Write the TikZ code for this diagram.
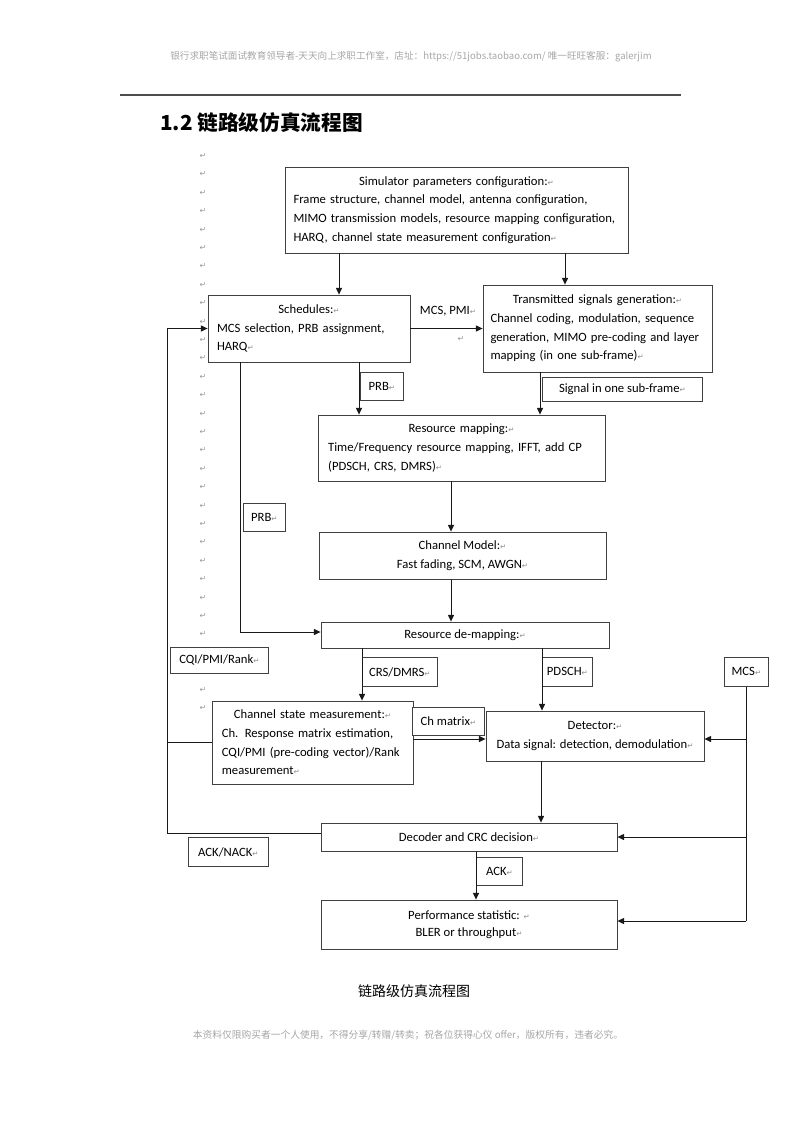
\documentclass[tikz,border=0pt]{standalone}
\usepackage{fontspec}
\setmainfont{Carlito}
\newfontfamily\cjk{Noto Sans CJK SC}
\newfontfamily\dejavu{DejaVu Sans}
\usetikzlibrary{arrows.meta, positioning}

% paragraph mark and line helpers
\newcommand\retm{{\dejavu\fontsize{5.5}{6}\selectfont\color{black!45}↵}}
\newcommand\jl[1]{\makebox[\hsize][s]{#1}}
\newcommand\ctr[1]{\makebox[\hsize][c]{#1}}

\begin{document}
\begin{tikzpicture}[
    x=0.75pt, y=-0.75pt,
    % Styles
    block/.style={
        rectangle, draw=black!75, fill=white, line width=0.6pt,
        inner sep=0pt, font=\fontsize{9.5}{14}\selectfont, align=left
    },
    blocksz/.style 2 args={
        minimum width=#1*0.75pt, minimum height=#2*0.75pt
    },
    tag/.style={
        rectangle, draw=black!75, fill=white, line width=0.6pt,
        inner sep=0pt, font=\fontsize{9.5}{12}\selectfont, anchor=north west
    },
    arrow/.style={
        -{Triangle[length=5pt, width=4.5pt]}, line width=0.7pt, black!90
    },
    link/.style={line width=0.7pt, black!90},
    retmark/.style={
        font=\dejavu\fontsize{6}{6}\selectfont, text=black!40, inner sep=0pt
    },
    pagetext/.style={
        font=\cjk\fontsize{7.2}{8}\selectfont, text=black!35, inner sep=0pt
    }
]
\useasboundingbox (0,0) rectangle (800,1132);

% Page header and title
\node[pagetext] (header) at (411,57) {银行求职笔试面试教育领导者-天天向上求职工作室，店址：https://51jobs.taobao.com/ 唯一旺旺客服：galerjim};
\coordinate (ruleL) at (120,95);
\coordinate (ruleR) at (681,95);
\draw[black!70, line width=1pt] (ruleL) -- (ruleR);
\node[font=\cjk\bfseries\fontsize{15.5}{18}\selectfont, anchor=west, inner sep=0pt] (title) at (160,123) {1.2 链路级仿真流程图};

% Paragraph marks down the left margin
\foreach \k in {0,...,26,29,30}
    \node[retmark] (pm\k) at (203,156+18.4*\k) {↵};

% Columns and rows for the connectors
\coordinate (c1) at (339,0);
\coordinate (c2) at (565,0);
\coordinate (c3) at (359,0);
\coordinate (c4) at (540,0);
\coordinate (c5) at (451,0);
\coordinate (c6) at (240,0);
\coordinate (c7) at (362,0);
\coordinate (c8) at (542,0);
\coordinate (c9) at (541,0);
\coordinate (c10) at (476,0);
\coordinate (fb) at (167,0);
\coordinate (r1) at (0,632);
\coordinate (r2) at (0,739);
\coordinate (r3) at (0,833);
\coordinate (r4) at (0,921);

% ── Blocks ─────────────────────────────────────────────
\node[block, blocksz={343}{86}, text width=244.5pt] (sim) at (456.5,210) {%
    \ctr{Simulator parameters configuration:\retm}\\
    \jl{Frame structure, channel model, antenna configuration,}\\
    \jl{MIMO transmission models, resource mapping configuration,}\\
    HARQ, channel state measurement configuration\retm};

\node[block, blocksz={202}{67}, text width=138pt] (sched) at (309,328.5) {%
    \ctr{Schedules:\retm}\\
    \jl{MCS selection, PRB assignment,}\\
    HARQ\retm};

\node[block, blocksz={229}{87}, text width=160.5pt] (trans) at (597.5,328.5) {%
    \ctr{Transmitted signals generation:\retm}\\
    \jl{Channel coding, modulation, sequence}\\
    \jl{generation, MIMO pre-coding and layer}\\
    mapping (in one sub-frame)\retm};

\node[block, blocksz={287}{66}, text width=200pt] (rmap) at (461.5,448) {%
    \ctr{Resource mapping:\retm}\\
    \jl{Time/Frequency resource mapping, IFFT, add CP}\\
    (PDSCH, CRS, DMRS)\retm};

\node[block, blocksz={287}{47}, align=center] (chm) at (462.5,555.5) {%
    Channel Model:\retm\\Fast fading, SCM, AWGN\retm};

\node[block, blocksz={288}{26}, align=center] (demap) at (465,635) {Resource de-mapping:\retm};

\node[block, blocksz={201}{83}, text width=136pt] (csm) at (312.5,742.5) {%
    \ctr{Channel state measurement:\retm}\\
    \jl{Ch. Response matrix estimation,}\\
    \jl{CQI/PMI (pre-coding vector)/Rank}\\
    measurement\retm};

\node[block, blocksz={218}{50}, align=center] (det) at (595,736) {%
    Detector:\retm\\Data signal: detection, demodulation\retm};

\node[block, blocksz={296}{28}, align=center] (dec) at (469,837) {Decoder and CRC decision\retm};

\node[block, blocksz={296}{49}, align=center, font=\fontsize{9.5}{13}\selectfont] (perf) at (469,924.5) {%
    Performance statistic: \retm\\BLER or throughput\retm};

% ── Label boxes ────────────────────────────────────────
\node[tag, blocksz={43}{28}] (prbA) at (360,372) {PRB\retm};
\node[tag, blocksz={160}{24}] (sig) at (542,377) {Signal in one sub-frame\retm};
\node[tag, blocksz={42}{28}] (prbB) at (243,503) {PRB\retm};
\node[tag, blocksz={98}{26}] (cqi) at (170,647) {CQI/PMI/Rank\retm};
\node[tag, blocksz={75}{29}] (crs) at (362,657) {CRS/DMRS\retm};
\node[tag, blocksz={50}{29}] (pdsch) at (542,657) {PDSCH\retm};
\node[tag, blocksz={44}{29}] (mcs) at (724,657) {MCS\retm};
\node[tag, blocksz={72}{28}] (chmat) at (412,707) {Ch matrix\retm};
\node[tag, blocksz={80}{29}] (acknack) at (188,837) {ACK/NACK\retm};
\node[tag, blocksz={46}{28}] (ack) at (476,857) {ACK\retm};

\node[font=\fontsize{9.5}{12}\selectfont, inner sep=0pt] (mcspmi) at (448,311) {MCS, PMI\retm};
\node[retmark] (stray) at (461,339) {↵};

% ── Arrows ─────────────────────────────────────────────
% Configuration to scheduler and transmitter
\draw[arrow] (sim.south -| c1) -- (sched.north -| c1);
\draw[arrow] (sim.south -| c2) -- (trans.north -| c2);
\draw[arrow] (sched.east) -- (trans.west |- sched.east);

% Transmit chain
\draw[arrow] (sched.south -| c3) -- (rmap.north -| c3);
\draw[arrow] (trans.south -| c4) -- (rmap.north -| c4);
\draw[arrow] (rmap.south -| c5) -- (chm.north -| c5);
\draw[arrow] (chm.south -| c5) -- (demap.north -| c5);
\draw[arrow] (sched.south -| c6) |- (demap.west |- r1);

% Receive chain
\draw[arrow] (demap.south -| c7) -- (csm.north -| c7);
\draw[arrow] (demap.south -| c8) -- (det.north -| c8);
\draw[arrow] (csm.east |- r2) -- (det.west |- r2);
\draw[arrow] (det.south -| c9) -- (dec.north -| c9);
\draw[arrow] (dec.south -| c10) -- (perf.north -| c10);

% MCS feed
\draw[link] (mcs.south) -- (mcs.south |- r4);
\draw[arrow] (mcs.south |- r2) -- (det.east |- r2);
\draw[arrow] (mcs.south |- dec.east) -- (dec.east);
\draw[arrow] (mcs.south |- r4) -- (perf.east |- r4);

% Feedback to scheduler
\draw[arrow] (csm.west) -| (sched.west -| fb) -- (sched.west);
\draw[link] (dec.west |- r3) -| (csm.west -| fb);

% Caption and footer
\node[font=\cjk\fontsize{10.5}{12}\selectfont, inner sep=0pt] (caption) at (414,991) {链路级仿真流程图};
\node[pagetext, font=\cjk\fontsize{7.3}{8}\selectfont] (footer) at (408,1035) {本资料仅限购买者一个人使用，不得分享/转赠/转卖；祝各位获得心仪 offer，版权所有，违者必究。};

\end{tikzpicture}
\end{document}
